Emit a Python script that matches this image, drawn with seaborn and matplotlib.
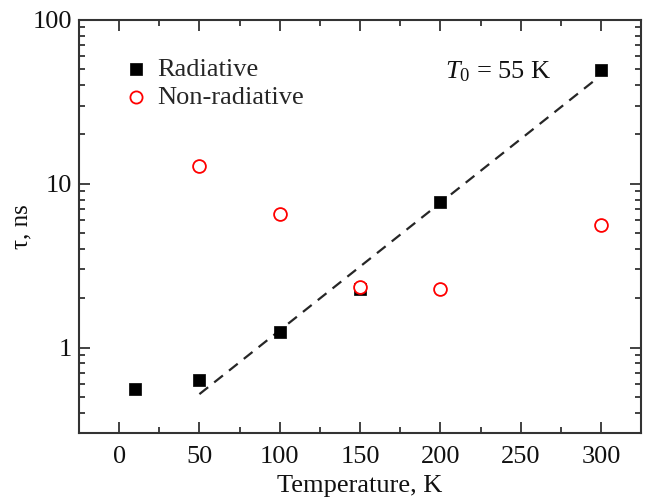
import pandas as pd
import matplotlib
matplotlib.use("Agg")
import matplotlib.pyplot as plt
from matplotlib.ticker import MultipleLocator, LogLocator, NullFormatter, FixedLocator
import seaborn as sns

# Data
temps = [10, 50, 100, 150, 200, 300]
tau_rad = [0.56, 0.63, 1.24, 2.28, 7.7, 49.5]

temps_nr = [50, 100, 150, 200, 300]
tau_nonrad = [12.8, 6.55, 2.35, 2.28, 5.63]

# exponential fit (T0 = 55 K), endpoints of the dashed line
fit_T = [50, 295]
fit_tau = [0.52, 42.0]

rad = pd.DataFrame({'T': temps, 'tau': tau_rad})
nonrad = pd.DataFrame({'T': temps_nr, 'tau': tau_nonrad})
fit = pd.DataFrame({'T': fit_T, 'tau': fit_tau})

sns.set_theme(style='ticks')
plt.rcParams['font.family'] = ['Liberation Serif', 'DejaVu Serif']
plt.rcParams['mathtext.fontset'] = 'custom'
plt.rcParams['mathtext.rm'] = 'Liberation Serif'
plt.rcParams['mathtext.it'] = 'Liberation Serif:italic'

fig = plt.figure(figsize=(6.47, 4.98), dpi=100)
ax = fig.add_axes([0.122, 0.130, 0.869, 0.830])

sns.lineplot(data=fit, x='T', y='tau', ax=ax, color='#262626', linewidth=1.6,
             linestyle=(0, (5, 3.5)), zorder=2)
sns.scatterplot(data=rad, x='T', y='tau', ax=ax, marker='s', s=85, color='black',
                edgecolor='black', linewidth=0.5, label='Radiative', zorder=3)
sns.scatterplot(data=nonrad, x='T', y='tau', ax=ax, marker='o', s=85, facecolor='white',
                edgecolor='red', linewidth=1.3, label='Non-radiative', zorder=4)

ax.set_yscale('log')
ax.set_xlim(-25, 325)
ax.set_ylim(0.3, 100)

ax.xaxis.set_major_locator(MultipleLocator(50))
ax.xaxis.set_minor_locator(MultipleLocator(25))
ax.yaxis.set_major_locator(FixedLocator([1, 10, 100]))
ax.yaxis.set_major_formatter(matplotlib.ticker.FixedFormatter(['1', '10', '100']))
ax.yaxis.set_minor_locator(LogLocator(base=10, subs=range(2, 10)))
ax.yaxis.set_minor_formatter(NullFormatter())

ax.tick_params(which='both', direction='in', top=True, right=True, width=1.3,
               color='#333333', labelsize=19, labelcolor='#111111')
ax.tick_params(which='major', length=8)
ax.tick_params(which='minor', length=4.5)
ax.tick_params(axis='x', which='major', pad=9.5)
ax.tick_params(axis='y', which='major', pad=5)
for sp in ax.spines.values():
    sp.set_linewidth(1.5)
    sp.set_color('#333333')

ax.set_xlabel('Temperature, K', fontsize=19, color='#111111', labelpad=5)
ax.set_ylabel('τ, ns', fontsize=18, color='#111111', labelpad=0)

ax.text(0.651, 0.874, r'$T_0$ = 55 K', transform=ax.transAxes, fontsize=19,
        color='#111111', ha='left', va='center')

ax.legend(loc='upper left', frameon=False, fontsize=19, handlelength=1.0,
          handletextpad=0.3, borderaxespad=0, labelspacing=0.18,
          bbox_to_anchor=(0.06, 0.935), markerscale=0.95)

plt.savefig('out.png', dpi=100)
